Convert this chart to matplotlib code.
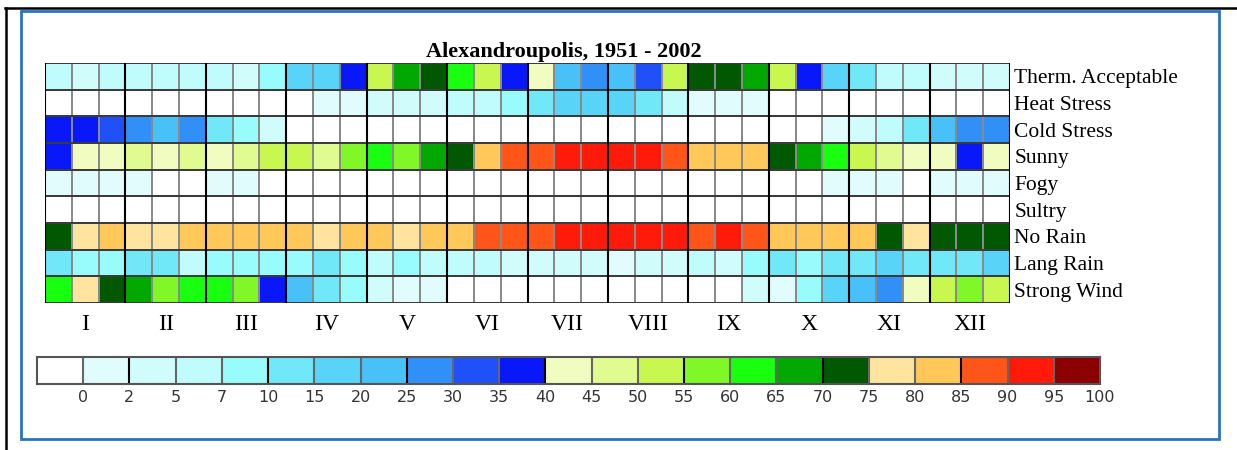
import matplotlib
matplotlib.use("Agg")
import matplotlib.pyplot as plt
import numpy as np
from matplotlib.colors import ListedColormap, BoundaryNorm
from matplotlib.patches import Rectangle
from matplotlib.lines import Line2D

# frequency (%) of each condition per 10-day period (3 per month)
title = "Alexandroupolis, 1951 - 2002"
rows = ["Therm. Acceptable", "Heat Stress", "Cold Stress", "Sunny", "Fogy",
        "Sultry", "No Rain", "Lang Rain", "Strong Wind"]
months = ["I", "II", "III", "IV", "V", "VI", "VII", "VIII", "IX", "X", "XI", "XII"]

therm_acceptable = [6, 4, 6, 6, 6, 6, 6, 4, 9, 17, 17, 37, 52, 67, 72, 62, 52, 37,
                    42, 22, 27, 22, 32, 52, 72, 72, 67, 52, 37, 17, 12, 6, 6, 4, 4, 4]
heat_stress = [0, 0, 0, 0, 0, 0, 0, 0, 0, 0, 1, 1, 4, 4, 4, 6, 6, 9,
               12, 17, 17, 17, 12, 6, 1, 1, 1, 0, 0, 0, 0, 0, 0, 0, 0, 0]
cold_stress = [37, 37, 32, 27, 22, 27, 12, 9, 4, 0, 0, 0, 0, 0, 0, 0, 0, 0,
               0, 0, 0, 0, 0, 0, 0, 0, 0, 0, 0, 1, 4, 6, 12, 22, 27, 27]
sunny = [37, 42, 42, 47, 42, 47, 42, 47, 52, 52, 47, 57, 62, 57, 67, 72, 82, 87,
         87, 92, 92, 92, 92, 87, 82, 82, 82, 72, 67, 62, 52, 47, 42, 42, 37, 42]
fogy = [1, 1, 1, 1, 0, 0, 1, 1, 0, 0, 0, 0, 0, 0, 0, 0, 0, 0,
        0, 0, 0, 0, 0, 0, 0, 0, 0, 0, 0, 1, 1, 1, 0, 1, 1, 1]
sultry = [0] * 36
no_rain = [72, 77, 82, 77, 77, 82, 82, 82, 82, 82, 77, 82, 82, 77, 82, 82, 87, 87,
           87, 92, 92, 92, 92, 92, 87, 92, 87, 82, 82, 82, 82, 72, 77, 72, 72, 72]
lang_rain = [12, 9, 9, 12, 12, 6, 9, 9, 9, 9, 12, 9, 6, 9, 6, 6, 6, 4,
             4, 4, 4, 1, 4, 4, 6, 4, 9, 12, 9, 12, 12, 17, 12, 12, 12, 17]
strong_wind = [62, 77, 72, 67, 57, 62, 62, 57, 37, 22, 12, 9, 4, 1, 1, 0, 0, 0,
               0, 0, 0, 0, 0, 0, 0, 0, 4, 1, 9, 17, 22, 27, 42, 52, 57, 52]

bounds = [-1, 0.5, 2, 5, 7, 10, 15, 20, 25, 30, 35, 40, 45, 50, 55, 60, 65, 70,
          75, 80, 85, 90, 95, 100]
bound_labels = ["0", "2", "5", "7", "10", "15", "20", "25", "30", "35", "40", "45",
                "50", "55", "60", "65", "70", "75", "80", "85", "90", "95", "100"]
colors = ["#FFFFFF", "#E0FCFC", "#D0FCFC", "#C0FCFC", "#98FCFC", "#70E8F8",
          "#58D4F8", "#48C0F8", "#3090F8", "#2050F8", "#0818F8", "#F0FCC0",
          "#E0FC90", "#C8F850", "#80F828", "#18FF10", "#00A800", "#005800",
          "#FFE4A0", "#FFC858", "#FF5518", "#FF1A0A", "#8B0000"]

data = np.array([therm_acceptable, heat_stress, cold_stress, sunny, fogy,
                 sultry, no_rain, lang_rain, strong_wind])

plt.rcParams["font.family"] = ["Liberation Serif", "DejaVu Serif"]

W, H = 1237, 450
cmap = ListedColormap(colors)
norm = BoundaryNorm(bounds, cmap.N)


def box(x0, y0, x1, y1):
    return [x0 / W, 1 - y1 / H, (x1 - x0) / W, (y1 - y0) / H]


fig = plt.figure(figsize=(W / 100, H / 100), dpi=100)

# page frame
fig.add_artist(Line2D([5 / W, 1], [1 - 8 / H] * 2, color="black", lw=1.8))
fig.add_artist(Line2D([6 / W] * 2, [1 - 8 / H, 0], color="black", lw=1.8))
fig.add_artist(Rectangle((21 / W, 1 - 439 / H), 1198 / W, 428 / H, fill=False,
                         edgecolor="#2A72C0", lw=2))

# heat map
ax = fig.add_axes(box(45, 63, 1010, 303))
ax.pcolormesh(np.arange(37), np.arange(10), data, cmap=cmap, norm=norm,
              edgecolors="#8A8A8A", linewidth=1.4)
for y in range(10):
    ax.axhline(y, color="#333333", lw=1.3)
for x in range(0, 37, 3):
    ax.axvline(x, color="black", lw=1.5)
ax.set_xlim(0, 36)
ax.set_ylim(9, 0)
for s in ax.spines.values():
    s.set_visible(False)
ax.set_xticks(np.arange(1.5, 36, 3))
ax.set_xticklabels(months, fontsize=17)
ax.set_yticks(np.arange(0.5, 9, 1))
ax.set_yticklabels(rows, fontsize=15.5)
ax.yaxis.tick_right()
ax.tick_params(length=0)
ax.tick_params(axis="y", pad=3)
ax.tick_params(axis="x", pad=8)
ax.set_title(title, fontsize=16, fontweight="bold", pad=4, x=(564 - 45) / 965)

# colour scale
cax = fig.add_axes(box(37, 357, 1100, 384))
mids = [(bounds[i] + bounds[i + 1]) / 2 for i in range(len(colors))]
cax.pcolormesh(np.arange(len(colors) + 1), [0, 1], [mids], cmap=cmap, norm=norm)
for i in range(1, len(colors)):
    cax.axvline(i, color="black" if i % 3 == 2 else "#666666", lw=1.5)
cax.set_xlim(0, len(colors))
cax.set_ylim(0, 1)
cax.set_yticks([])
cax.set_xticks(np.arange(1, len(colors) + 1))
cax.set_xticklabels(bound_labels, fontsize=11.5, color="#333333",
                    family=["Liberation Sans Narrow", "DejaVu Sans"])
cax.tick_params(length=0, pad=4)
for s in cax.spines.values():
    s.set_color("#555555")
    s.set_linewidth(1.5)

fig.savefig("out.png", dpi=100)
